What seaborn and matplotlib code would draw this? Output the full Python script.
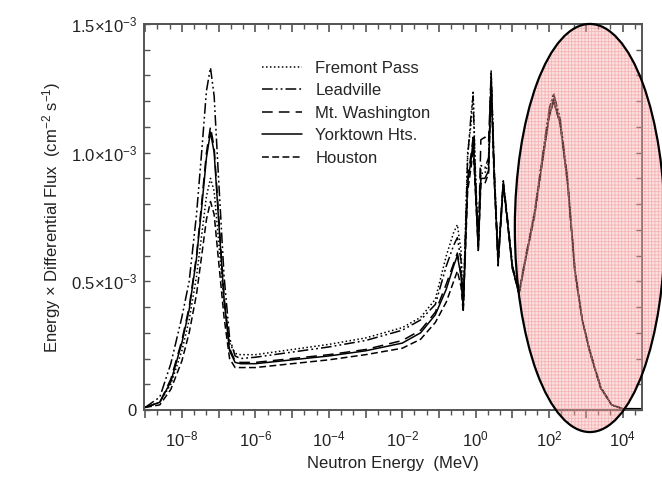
import numpy as np
import pandas as pd
import matplotlib
matplotlib.use("Agg")
import matplotlib.pyplot as plt
import matplotlib.ticker as mticker
from matplotlib.patches import Ellipse
import seaborn as sns

# energy grid, log10(E / MeV)
log_energy = [
    -9.0, -8.6, -8.3, -8.0, -7.8, -7.6, -7.45, -7.33, -7.22, -7.12, -7.0, -6.85, -6.7, -6.55, -6.4,
    -6.0, -5.0, -4.0, -3.0, -2.0, -1.5, -1.1, -0.8, -0.6, -0.5, -0.4, -0.34,
    -0.22, -0.12, -0.07, -0.02, 0.07, 0.14, 0.25, 0.35, 0.42, 0.5, 0.61, 0.75, 0.86, 1.0, 1.18,
    1.35, 1.6, 1.8, 2.0, 2.12, 2.3, 2.5, 2.7, 2.9, 3.1, 3.4, 3.7, 4.0, 4.52,
]

# energy x differential flux, in units of 1e-3 cm^-2 s^-1
fremont_pass = [
    0.01, 0.03, 0.10, 0.23, 0.35, 0.52, 0.69, 0.83, 0.90, 0.85, 0.66, 0.42, 0.26, 0.22, 0.215,
    0.215, 0.235, 0.255, 0.28, 0.32, 0.36, 0.43, 0.60, 0.69, 0.72, 0.62, 0.40,
    1.00, 1.12, 1.24, 0.98, 0.64, 0.92, 0.92, 0.96, 1.32, 0.95, 0.58, 0.89, 0.75, 0.56, 0.46,
    0.59, 0.77, 0.97, 1.17, 1.23, 1.13, 0.90, 0.55, 0.35, 0.235, 0.09, 0.02, 0.005, 0.005,
]
leadville = [
    0.01, 0.05, 0.18, 0.36, 0.50, 0.76, 1.02, 1.24, 1.33, 1.22, 0.90, 0.52, 0.28, 0.21, 0.20,
    0.205, 0.225, 0.245, 0.27, 0.31, 0.35, 0.41, 0.56, 0.64, 0.67, 0.58, 0.40,
    0.98, 1.16, 1.22, 0.95, 0.66, 0.95, 0.94, 0.98, 1.30, 0.93, 0.59, 0.88, 0.74, 0.55, 0.46,
    0.59, 0.77, 0.97, 1.17, 1.23, 1.13, 0.90, 0.55, 0.35, 0.235, 0.09, 0.02, 0.005, 0.005,
]
mt_washington = [
    0.01, 0.03, 0.12, 0.27, 0.40, 0.60, 0.82, 1.00, 1.10, 1.02, 0.76, 0.44, 0.24, 0.19, 0.185,
    0.185, 0.20, 0.215, 0.235, 0.27, 0.31, 0.38, 0.49, 0.57, 0.61, 0.53, 0.40,
    0.90, 1.00, 1.06, 0.92, 0.64, 1.05, 1.06, 1.04, 1.31, 0.95, 0.58, 0.89, 0.75, 0.56, 0.46,
    0.58, 0.76, 0.96, 1.15, 1.21, 1.12, 0.89, 0.54, 0.35, 0.23, 0.09, 0.02, 0.005, 0.005,
]
yorktown_hts = [
    0.01, 0.03, 0.11, 0.26, 0.39, 0.59, 0.80, 0.98, 1.08, 1.00, 0.74, 0.43, 0.23, 0.185, 0.18,
    0.18, 0.195, 0.21, 0.23, 0.26, 0.30, 0.37, 0.47, 0.56, 0.60, 0.52, 0.40,
    0.88, 0.98, 1.05, 0.90, 0.62, 0.90, 0.90, 0.93, 1.28, 0.92, 0.57, 0.88, 0.74, 0.55, 0.45,
    0.58, 0.76, 0.95, 1.14, 1.20, 1.11, 0.88, 0.54, 0.35, 0.23, 0.085, 0.02, 0.005, 0.005,
]
houston = [
    0.01, 0.02, 0.08, 0.19, 0.30, 0.45, 0.61, 0.74, 0.81, 0.76, 0.58, 0.36, 0.20, 0.165, 0.165,
    0.165, 0.18, 0.195, 0.215, 0.24, 0.275, 0.34, 0.42, 0.50, 0.54, 0.48, 0.38,
    0.85, 0.95, 1.02, 0.88, 0.62, 0.88, 0.88, 0.92, 1.26, 0.90, 0.56, 0.87, 0.73, 0.55, 0.45,
    0.58, 0.75, 0.95, 1.14, 1.20, 1.11, 0.88, 0.53, 0.35, 0.225, 0.085, 0.02, 0.005, 0.005,
]

sites = ["Fremont Pass", "Leadville", "Mt. Washington", "Yorktown Hts.", "Houston"]
site_values = [fremont_pass, leadville, mt_washington, yorktown_hts, houston]

x_tick_exps = list(range(-9, 5))
y_ticks = [0, 0.5, 1.0, 1.5]
y_tick_labels = ["0", r"$0.5{\times}10^{-3}$", r"$1.0{\times}10^{-3}$", r"$1.5{\times}10^{-3}$"]

frames = []
for site, vals in zip(sites, site_values):
    frames.append(pd.DataFrame({"energy": 10.0 ** np.array(log_energy), "flux": vals, "site": site}))
df = pd.concat(frames, ignore_index=True)

sns.set_theme(style="ticks")
plt.rcParams["font.family"] = ["Liberation Sans", "DejaVu Sans"]
plt.rcParams["mathtext.fontset"] = "custom"
plt.rcParams["mathtext.rm"] = "Liberation Sans"
plt.rcParams["mathtext.it"] = "Liberation Sans:italic"
plt.rcParams["mathtext.default"] = "regular"
plt.rcParams["hatch.linewidth"] = 0.6

txt = "#222222"
grey = "#555555"

fig = plt.figure(figsize=(6.62, 4.79), dpi=100)
ax = fig.add_axes([0.2175, 0.144, 0.7525, 0.806])

dashes = {
    "Fremont Pass": (1, 1.6),
    "Leadville": (7, 2, 1.2, 2, 1.2, 2),
    "Mt. Washington": (7, 4),
    "Yorktown Hts.": "",
    "Houston": (4.5, 2.2),
}
sns.lineplot(data=df, x="energy", y="flux", hue="site", style="site",
             hue_order=sites, style_order=sites, palette=["black"] * 5,
             dashes=dashes, estimator=None, sort=False, lw=1.1, ax=ax)

ax.set_xscale("log")
ax.set_xlim(10 ** -9.03, 10 ** 4.53)
ax.set_ylim(0, 1.5)

major_x = [10.0 ** k for k in x_tick_exps]
minor_x = [10.0 ** (k + f) for k in range(-10, 5) for f in (1 / 3, 2 / 3)]
ax.xaxis.set_major_locator(mticker.FixedLocator(major_x))
ax.xaxis.set_minor_locator(mticker.FixedLocator(minor_x))
ax.xaxis.set_major_formatter(mticker.FixedFormatter(
    [r"$10^{%d}$" % k if k % 2 == 0 else "" for k in x_tick_exps]))
ax.xaxis.set_minor_formatter(mticker.NullFormatter())

ax.yaxis.set_major_locator(mticker.FixedLocator(y_ticks))
ax.yaxis.set_major_formatter(mticker.FixedFormatter(y_tick_labels))
ax.yaxis.set_minor_locator(mticker.MultipleLocator(0.1))

for s in ax.spines.values():
    s.set_color(grey)
    s.set_linewidth(1.4)
    s.set_visible(True)

ax.tick_params(axis="y", which="both", direction="in", left=True, right=True,
               length=4, width=1, color=grey, labelsize=12, labelcolor=txt, pad=5)
ax.tick_params(axis="x", which="major", direction="out", length=6, width=1.2,
               color=grey, labelsize=12, labelcolor=txt, pad=8)
ax.tick_params(axis="x", which="minor", direction="out", length=3.5, width=1, color=grey)

top = ax.secondary_xaxis("top")
top.xaxis.set_major_locator(mticker.FixedLocator(major_x))
top.xaxis.set_minor_locator(mticker.FixedLocator(minor_x))
top.tick_params(which="major", direction="in", length=6, width=1.2, color=grey, labeltop=False)
top.tick_params(which="minor", direction="in", length=3.5, width=1, color=grey)
top.spines["top"].set_color(grey)
top.spines["top"].set_linewidth(1.4)

ax.set_xlabel("Neutron Energy  (MeV)", fontsize=12, color=txt, labelpad=5)
ax.set_ylabel(r"Energy × Differential Flux  (cm$^{-2}$ s$^{-1}$)", fontsize=12, color=txt, labelpad=6)

handles, labels = ax.get_legend_handles_labels()
ax.legend(handles, labels, loc="upper left", bbox_to_anchor=(0.237, 0.905),
          frameon=False, fontsize=12, handlelength=2.4, handletextpad=0.8,
          labelspacing=0.45, borderpad=0, borderaxespad=0)

# highlighted region
centre, w, h = (0.891, 0.524), 0.2266, 0.852
fig.add_artist(Ellipse(centre, w, h, transform=fig.transFigure, facecolor="#f4a9a9",
                       edgecolor="none", alpha=0.35, zorder=5))
fig.add_artist(Ellipse(centre, w, h, transform=fig.transFigure, fill=False, hatch="+++++",
                       edgecolor="#ef8080", lw=0, alpha=0.45, zorder=5))
fig.add_artist(Ellipse(centre, w, h, transform=fig.transFigure, fill=False,
                       edgecolor="black", lw=1.6, zorder=6))

fig.savefig("out.png", dpi=100)
